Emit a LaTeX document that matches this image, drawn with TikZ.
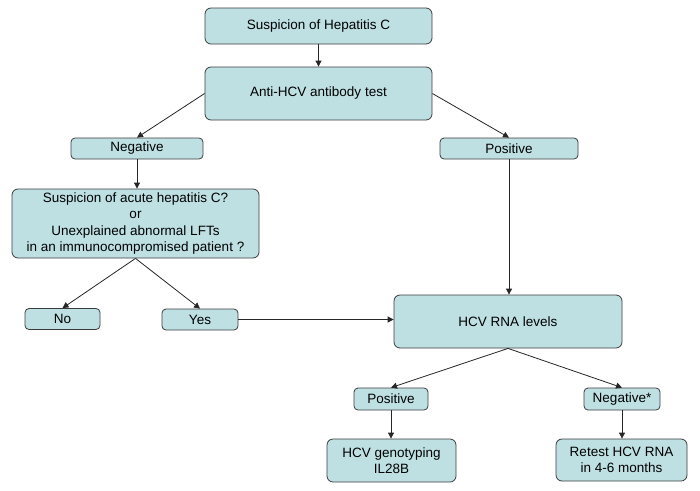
\documentclass[tikz,border=0pt]{standalone}
\usepackage{fontspec}
\setmainfont{Liberation Sans}
\usetikzlibrary{arrows.meta}
\definecolor{boxfill}{RGB}{190,224,227}
\definecolor{boxline}{RGB}{60,60,60}
\tikzset{
	flowbox/.style={draw=boxline, line width=0.8pt, fill=boxfill, rounded corners=6pt, align=center, inner sep=0pt, font=\fontsize{13.5}{16.3}\selectfont},
	smallbox/.style={flowbox, rounded corners=4pt},
	flowarrow/.style={draw=black!85, line width=0.8pt, -{Triangle[width=6pt,length=6pt]}}
}

\begin{document}
\begin{tikzpicture}[x=1pt, y=-1pt]
		%%%%% START %%%%%
		
		\useasboundingbox (0, 0) rectangle (700, 490);
		
		\node[flowbox, minimum width=227pt, minimum height=36pt] (suspicion) at (318.5, 26) {Suspicion of Hepatitis C};
		\node[flowbox, minimum width=227pt, minimum height=53pt] (antibody) at (318.5, 93.5) {Anti-HCV antibody test};
		
		\node[smallbox, minimum width=132pt, minimum height=21pt] (abneg) at (137, 148.5) {Negative};
		\node[smallbox, minimum width=138pt, minimum height=21pt] (abpos) at (509, 148.5) {Positive};
		
		\node[flowbox, minimum width=247pt, minimum height=69pt] (acute) at (135.5, 223.5) {Suspicion of acute hepatitis C?\\or\\Unexplained abnormal LFTs\\in an immunocompromised patient ?};
		
		\node[smallbox, minimum width=75pt, minimum height=21pt] (no) at (62.5, 319) {No};
		\node[smallbox, minimum width=76pt, minimum height=21pt] (yes) at (200, 319.5) {Yes};
		
		\node[flowbox, minimum width=228pt, minimum height=53pt] (rna) at (508, 321.5) {HCV RNA levels};
		
		\node[smallbox, minimum width=74pt, minimum height=22pt] (rnapos) at (391, 399) {Positive};
		\node[smallbox, minimum width=76pt, minimum height=22pt] (rnaneg) at (622, 399) {Negative*};
		
		\node[flowbox, minimum width=129pt, minimum height=43pt] (genotyping) at (391.5, 460.5) {HCV genotyping\\IL28B};
		\node[flowbox, minimum width=131pt, minimum height=42pt] (retest) at (621.5, 460) {Retest HCV RNA\\in 4-6 months};
		
		% connectors
		\draw[flowarrow] (suspicion.south) -- (antibody.north);
		\draw[flowarrow] (antibody.west) -- (abneg.north);
		\draw[flowarrow] (antibody.east) -- (abpos.north);
		\draw[flowarrow] (abneg.south) -- (abneg.south |- acute.north);
		\draw[flowarrow] (abpos.south) -- (abpos.south |- rna.north);
		\draw[flowarrow] (acute.south) -- (no.north);
		\draw[flowarrow] (acute.south) -- (yes.north);
		\draw[flowarrow] (yes.east) -- (yes.east -| rna.west);
		\draw[flowarrow] (rna.south) -- (rnapos.north);
		\draw[flowarrow] (rna.south) -- (rnaneg.north);
		\draw[flowarrow] (rnapos.south) -- (rnapos.south |- genotyping.north);
		\draw[flowarrow] (rnaneg.south) -- (rnaneg.south |- retest.north);
		
		%%%%% END %%%%%
	\end{tikzpicture}
\end{document}
